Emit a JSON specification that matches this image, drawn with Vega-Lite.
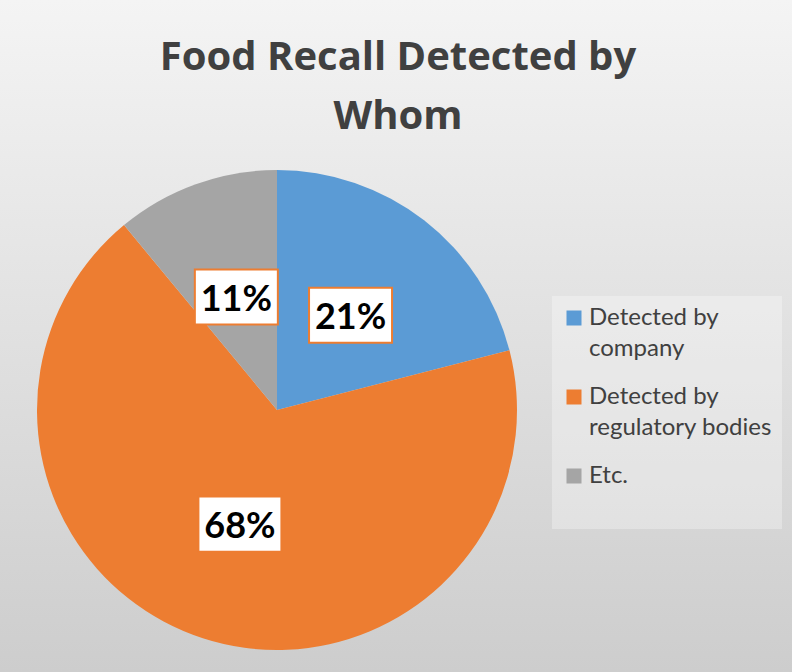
{
  "$schema": "https://vega.github.io/schema/vega-lite/v6.json",
  "width": 480,
  "height": 480,
  "autosize": {"type": "none"},
  "padding": {"left": 37, "top": 170, "right": 275, "bottom": 22},
  "background": "#dcdcdc",
  "view": {
    "fill": {"gradient": "linear", "x1": 0, "y1": -0.354, "x2": 0, "y2": 1.046,
      "stops": [{"offset": 0, "color": "#f4f4f4"}, {"offset": 1, "color": "#cdcdcd"}]},
    "stroke": {"gradient": "linear", "x1": 0, "y1": -0.354, "x2": 0, "y2": 1.046,
      "stops": [{"offset": 0, "color": "#f4f4f4"}, {"offset": 1, "color": "#cdcdcd"}]},
    "strokeWidth": 1800
  },
  "title": {
    "text": ["Food Recall Detected by", "Whom"],
    "font": "Open Sans",
    "fontSize": 40,
    "fontWeight": "bold",
    "color": "#404040",
    "lineHeight": 59,
    "anchor": "middle",
    "dx": 121,
    "offset": 33
  },
  "data": {
    "values": [
      {"source": "Detected by company", "share": 0.21},
      {"source": "Detected by regulatory bodies", "share": 0.68},
      {"source": "Etc.", "share": 0.11}
    ]
  },
  "encoding": {
    "theta": {"field": "share", "type": "quantitative", "stack": true},
    "order": {"field": "source", "sort": "ascending"}
  },
  "layer": [
    {
      "mark": {"type": "arc"},
      "encoding": {
        "color": {
          "field": "source",
          "type": "nominal",
          "scale": {
            "domain": ["Detected by company", "Detected by regulatory bodies", "Etc."],
            "range": ["#5B9BD5", "#ED7D31", "#A5A5A5"]
          },
          "legend": {
            "title": null,
            "orient": "none",
            "legendX": 515,
            "legendY": 126,
            "symbolType": "square",
            "symbolSize": 225,
            "symbolStrokeWidth": 0,
            "labelFont": "Lato",
            "labelFontSize": 24,
            "labelColor": "#404040",
            "labelOffset": 3,
            "labelLimit": 300,
            "labelBaseline": "top",
            "padding": 10,
            "rowPadding": 24,
            "fillColor": "rgba(255,255,255,0.3)",
            "labelExpr": "datum.label == 'Etc.' ? ['Etc.', ' '] : ['Detected by', slice(datum.label, 12)]",
            "encode": {"labels": {"update": {"lineHeight": {"value": 31}, "dy": {"value": -12}}}}
          }
        }
      }
    },
    {
      "transform": [
        {"window": [{"op": "sum", "field": "share", "as": "cum"}], "sort": [{"field": "source", "order": "ascending"}]},
        {"calculate": "2 * PI * (datum.cum - datum.share / 2)", "as": "mid"},
        {"calculate": "sin(datum.mid)", "as": "lx"},
        {"calculate": "cos(datum.mid)", "as": "ly"}
      ],
      "mark": {"type": "point", "shape": "M-1,-0.663H1V0.663H-1Z", "size": 6889, "filled": true,
        "fill": "#FFFFFF", "stroke": "#ED7D31", "strokeWidth": 2, "opacity": 1},
      "encoding": {
        "x": {"field": "lx", "type": "quantitative", "scale": {"domain": [-2, 2], "nice": false, "zero": false}, "axis": null},
        "y": {"field": "ly", "type": "quantitative", "scale": {"domain": [-2, 2], "nice": false, "zero": false}, "axis": null},
        "theta": null,
        "order": null
      }
    },
    {
      "mark": {"type": "text", "font": "Lato", "fontWeight": "bold", "fontSize": 36, "radius": 120, "dy": 3, "fill": "#000000"},
      "encoding": {
        "detail": {"field": "source", "type": "nominal"},
        "text": {"field": "share", "type": "quantitative", "format": ".0%"}
      }
    }
  ]
}
